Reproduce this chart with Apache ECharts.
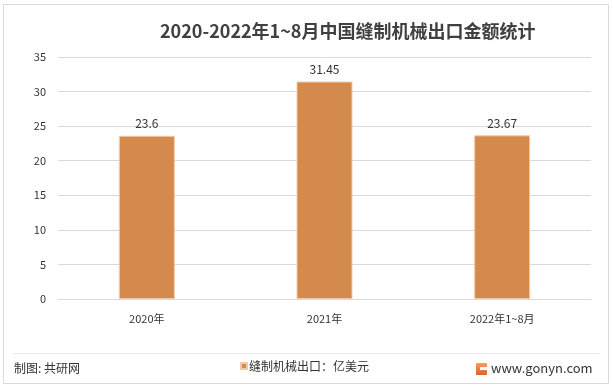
<!DOCTYPE html>
<html><head><meta charset="utf-8">
<script src="https://cdn.jsdelivr.net/npm/echarts@6/dist/echarts.min.js"></script>
<style>html,body{margin:0;padding:0;background:#fff}#c{width:613px;height:389px}</style>
</head><body><div id="c"></div>
<script>
var categories = ['2020年', '2021年', '2022年1~8月'];
var values = [23.6, 31.45, 23.67];
var seriesName = '缝制机械出口：亿美元';
var yTicks = [0, 5, 10, 15, 20, 25, 30, 35];

var chart = echarts.init(document.getElementById('c'));
var font = '"Microsoft YaHei","Noto Sans CJK SC",sans-serif';
chart.setOption({
  animation: false,
  title: {
    text: '2020-2022年1~8月中国缝制机械出口金额统计',
    left: 155, top: 17,
    textStyle: { fontFamily: font, fontSize: 18, fontWeight: 'bold', color: '#404040' }
  },
  grid: { left: 58, right: 22, top: 57, bottom: 90 },
  xAxis: {
    type: 'category', data: categories,
    axisLine: { lineStyle: { color: '#d9d9d9' } },
    axisTick: { show: false },
    axisLabel: { fontFamily: font, fontSize: 11, color: '#333333', margin: 14 }
  },
  yAxis: {
    type: 'value', min: yTicks[0], max: yTicks[yTicks.length - 1], interval: 5,
    axisLine: { show: false }, axisTick: { show: false },
    splitLine: { lineStyle: { color: '#d9d9d9' } },
    axisLabel: { fontFamily: font, fontSize: 11, color: '#333333', margin: 12 }
  },
  legend: {
    data: [seriesName], bottom: 12, left: 235, itemWidth: 6, itemHeight: 6, itemGap: 4,
    icon: 'rect',
    textStyle: { fontFamily: font, fontSize: 12, color: '#333333', padding: [0, 0, 0, -3] }
  },
  series: [{
    name: seriesName, type: 'bar', data: values, barWidth: '31.5%',
    itemStyle: { color: '#D48A4C', borderColor: '#F0C9A6', borderWidth: 1 },
    label: { show: true, position: 'top', fontFamily: font, fontSize: 12, color: '#333333', distance: 6 }
  }],
  graphic: [
    { type: 'rect', shape: { x: 3.5, y: 4.5, width: 605, height: 379 }, style: { fill: 'none', stroke: '#d9d9d9', lineWidth: 1 }, silent: true },
    { type: 'line', shape: { x1: 13, y1: 353.5, x2: 600, y2: 353.5 }, style: { stroke: '#e6e6e6', lineWidth: 1 } },
    { type: 'text', left: 14, top: 362, style: { text: '制图: 共研网', font: '12px ' + font, fill: '#333333' } },
    { type: 'rect', shape: { x: 476, y: 363, width: 11, height: 12, r: 1 }, style: { fill: new echarts.graphic.LinearGradient(0, 0, 0, 1, [{ offset: 0, color: '#F2A060' }, { offset: 1, color: '#E0602A' }]) } },
    { type: 'rect', shape: { x: 480, y: 367, width: 7, height: 3 }, style: { fill: '#fff' } },
    { type: 'text', left: 491, top: 362, style: { text: 'www.gonyn.com', font: '13px ' + font, fill: '#333333' } }
  ]
});
</script></body></html>
